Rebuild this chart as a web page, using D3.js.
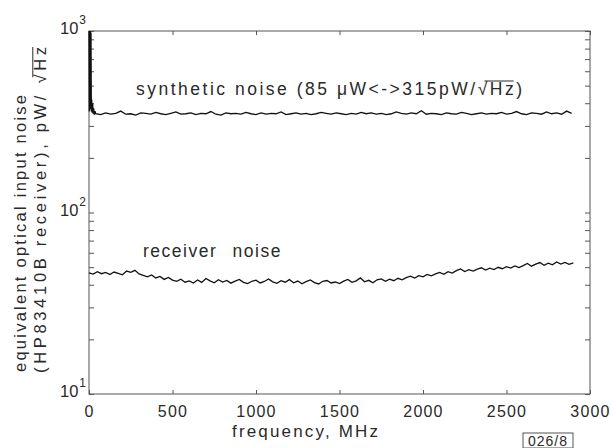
<!DOCTYPE html>
<html>
<head>
<meta charset="utf-8">
<script src="https://cdn.jsdelivr.net/npm/d3@7"></script>
<style>
  body { margin: 0; background: #fff; }
  svg text { font-family: "Liberation Sans", "DejaVu Sans", sans-serif; fill: #2a2a2a; }
</style>
</head>
<body>
<svg id="chart" width="611" height="448"></svg>
<script>
// ---- DATA ----
const xTicks = [0, 500, 1000, 1500, 2000, 2500, 3000];
const yLabels = [10, 100, 1000];

// synthetic noise: strong spike right at DC, then flat around 350 pW/rtHz
const spikeFreq = [0, 2, 4, 6, 8, 10, 12, 14, 16, 19, 22, 25, 28, 32, 36];
const spikeVal  = [1000, 360, 1000, 370, 1000, 380, 980, 360, 420, 355, 400, 350, 375, 346, 362];
const synthStart = 40, synthStep = 30;
const synthVal = [
  350,346,354,348,352,362,348,350,344,354,
  352,348,356,350,346,352,358,348,350,354,
  346,352,350,360,348,344,354,350,352,348,
  356,350,346,354,348,352,350,358,346,350,
  354,348,352,346,350,356,352,348,354,350,
  346,352,348,356,350,354,348,352,346,350,
  358,352,348,354,350,364,348,352,350,346,
  354,350,348,356,352,346,350,354,348,352,
  350,356,348,352,360,350,346,354,352,348,
  358,350,354,348,362,352
];

// receiver noise, every 25 MHz from 0 to 2900
const recvStep = 25;
const recvVal = [
  46.5,45.8,47.2,46.0,46.8,45.5,47.0,46.2,45.4,47.6,
  46.8,48.0,45.9,45.0,44.2,45.3,43.6,44.4,42.8,43.9,
  42.4,41.8,42.9,41.3,42.0,40.9,42.5,41.2,43.3,42.0,
  41.0,42.6,41.4,42.2,40.8,41.9,42.8,41.2,40.6,41.8,
  42.4,40.9,41.7,43.0,41.5,40.7,42.1,41.3,42.7,41.0,
  41.9,40.5,41.6,42.5,41.1,40.4,41.8,42.2,40.9,41.4,
  40.6,41.9,42.8,41.2,42.0,43.6,41.5,42.3,41.0,42.6,
  43.1,41.8,42.9,42.1,43.4,42.6,43.8,44.6,43.5,44.9,
  44.2,45.6,44.8,45.9,46.8,45.7,47.2,46.4,47.8,48.9,
  47.3,48.4,47.6,48.8,49.6,48.2,49.3,48.5,49.9,49.0,
  50.3,49.4,50.8,49.7,51.0,52.4,50.6,51.9,53.0,51.2,
  52.6,51.5,53.4,52.0,53.1,51.8,52.7
];

// ---- LAYOUT ----
const plotL = 89, plotR = 590, plotT = 31, plotB = 394;
const svg = d3.select("#chart");

const x = d3.scaleLinear().domain([0, 3000]).range([plotL, plotR]);
const y = d3.scaleLog().domain([10, 1000]).range([plotB, plotT]);

// frame
svg.append("rect")
  .attr("x", plotL).attr("y", plotT)
  .attr("width", plotR - plotL).attr("height", plotB - plotT)
  .attr("fill", "none").attr("stroke", "#555").attr("stroke-width", 1);

// inward ticks on all four sides
function styleAxis(g) {
  g.select(".domain").remove();
  g.selectAll(".tick line").attr("stroke", "#555");
  g.selectAll("text").attr("fill", "#2a2a2a").style("font-size", "16px")
    .style("letter-spacing", "1.2px")
    .style("font-family", "Liberation Sans, DejaVu Sans, sans-serif");
}

svg.append("g").attr("transform", `translate(0,${plotB})`)
  .call(d3.axisBottom(x).tickValues(xTicks).tickSizeInner(-4).tickSizeOuter(0)
    .tickPadding(12).tickFormat(d3.format("d")))
  .call(styleAxis);

svg.append("g").attr("transform", `translate(0,${plotT})`)
  .call(d3.axisTop(x).tickValues(xTicks).tickSizeInner(-4).tickSizeOuter(0).tickFormat(""))
  .call(styleAxis);

const yTicks = y.ticks();
svg.append("g").attr("transform", `translate(${plotL},0)`)
  .call(d3.axisLeft(y).tickValues(yTicks).tickSizeInner(-5).tickSizeOuter(0).tickFormat(""))
  .call(styleAxis);

svg.append("g").attr("transform", `translate(${plotR},0)`)
  .call(d3.axisRight(y).tickValues(yTicks).tickSizeInner(-5).tickSizeOuter(0).tickFormat(""))
  .call(styleAxis);

// y labels as 10^n
const yl = svg.append("g").selectAll("text").data(yLabels).enter().append("text")
  .attr("x", 86).attr("y", d => y(d) + 3)
  .attr("text-anchor", "end")
  .style("font-size", "16.5px");
yl.append("tspan").text("10");
yl.append("tspan").attr("dy", -10).attr("dx", 1).style("font-size", "12px").text(d => Math.round(Math.log10(d)));

// ---- LINES ----
const line = d3.line().x(d => x(d[0])).y(d => y(d[1]));

const synthPts = spikeFreq.map((f, i) => [f, spikeVal[i]])
  .concat(synthVal.map((v, i) => [synthStart + i * synthStep, v]));
const recvPts = recvVal.map((v, i) => [i * recvStep, v]);

svg.append("path").datum(synthPts)
  .attr("d", line).attr("fill", "none").attr("stroke", "#111").attr("stroke-width", 1.3);
svg.append("path").datum(recvPts)
  .attr("d", line).attr("fill", "none").attr("stroke", "#111").attr("stroke-width", 1.3);

// ---- ANNOTATIONS ----
// overline over the radicand, from the sqrt sign to the given end char
function overline(text, fromIdx, toIdx, baseY, size) {
  const n = text.node();
  const a = n.getExtentOfChar(fromIdx), b = n.getExtentOfChar(toIdx);
  d3.select(n.parentNode).append("line")
    .attr("x1", a.x + a.width * 0.7).attr("x2", b.x + b.width)
    .attr("y1", baseY - size * 0.8).attr("y2", baseY - size * 0.8)
    .attr("stroke", "#2a2a2a").attr("stroke-width", 1);
}

const synLabel = "synthetic noise (85 \u03bcW<->315pW/\u221aHz)";
const syn = svg.append("g").append("text").attr("x", 136).attr("y", 95).style("font-size", "17.5px")
  .attr("textLength", 386).attr("lengthAdjust", "spacing").text(synLabel);
overline(syn, synLabel.indexOf("\u221a"), synLabel.length - 2, 95, 17.5);

svg.append("text").attr("x", 143).attr("y", 257).style("font-size", "17.5px")
  .style("letter-spacing", "1.5px").style("word-spacing", "9px").text("receiver noise");

// x title
svg.append("text").attr("x", 232).attr("y", 437).style("font-size", "17px")
  .attr("textLength", 146).attr("lengthAdjust", "spacing").text("frequency, MHz");

// y title, two rotated lines
svg.append("text").attr("transform", "translate(26,372) rotate(-90)")
  .style("font-size", "16.5px").attr("textLength", 277).attr("lengthAdjust", "spacing")
  .text("equivalent optical input noise");
const yLabel2 = "(HP83410B receiver), pW/ \u221aHz";
const yt2 = svg.append("g").attr("transform", "translate(46,373) rotate(-90)")
  .append("text").style("font-size", "16.5px")
  .attr("textLength", 326).attr("lengthAdjust", "spacing").text(yLabel2);
overline(yt2, yLabel2.indexOf("\u221a"), yLabel2.length - 1, 0, 16.5);

// figure tag
svg.append("rect").attr("x", 523).attr("y", 433).attr("width", 50).attr("height", 15)
  .attr("fill", "none").attr("stroke", "#555");
svg.append("text").attr("x", 548).attr("y", 446).attr("text-anchor", "middle")
  .style("font-size", "14px").style("letter-spacing", "1px").text("026/8");
</script>
</body>
</html>
